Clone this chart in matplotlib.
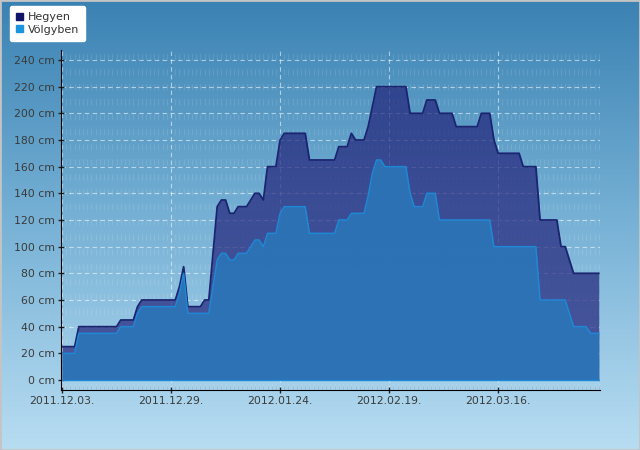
import numpy as np
import pandas as pd
import matplotlib
matplotlib.use("Agg")
import matplotlib.pyplot as plt
import matplotlib.dates as mdates
from matplotlib.colors import LinearSegmentedColormap
from matplotlib.patches import Rectangle

# napi hóvastagság (cm), 2011.12.03-tól
START = "2011-12-03"
hegyen = [25, 25, 25, 25, 40, 40, 40, 40, 40, 40, 40, 40, 40, 40, 45, 45, 45, 45, 55,
          60, 60, 60, 60, 60, 60, 60, 60, 60, 70, 85, 55, 55, 55, 55, 60, 60, 95, 130,
          135, 135, 125, 125, 130, 130, 130, 135, 140, 140, 135, 160, 160, 160, 180,
          185, 185, 185, 185, 185, 185, 165, 165, 165, 165, 165, 165, 165, 175, 175,
          175, 185, 180, 180, 180, 190, 205, 220, 220, 220, 220, 220, 220, 220, 220,
          200, 200, 200, 200, 210, 210, 210, 200, 200, 200, 200, 190, 190, 190, 190,
          190, 190, 200, 200, 200, 180, 170, 170, 170, 170, 170, 170, 160, 160, 160,
          160, 120, 120, 120, 120, 120, 100, 100, 90, 80, 80, 80, 80, 80, 80, 80]
volgyben = [20, 20, 20, 20, 35, 35, 35, 35, 35, 35, 35, 35, 35, 35, 40, 40, 40, 40, 50,
            55, 55, 55, 55, 55, 55, 55, 55, 55, 65, 80, 50, 50, 50, 50, 50, 50, 70, 90,
            95, 95, 90, 90, 95, 95, 95, 100, 105, 105, 100, 110, 110, 110, 125,
            130, 130, 130, 130, 130, 130, 110, 110, 110, 110, 110, 110, 110, 120, 120,
            120, 125, 125, 125, 125, 138, 155, 165, 165, 160, 160, 160, 160, 160, 160,
            140, 130, 130, 130, 140, 140, 140, 120, 120, 120, 120, 120, 120, 120, 120,
            120, 120, 120, 120, 120, 100, 100, 100, 100, 100, 100, 100, 100, 100,
            100, 100, 60, 60, 60, 60, 60, 60, 60, 50, 40, 40, 40, 40, 35, 35, 35]
nevek = ["Hegyen", "Völgyben"]
x_tickek = ["2011-12-03", "2011-12-29", "2012-01-24", "2012-02-19", "2012-03-16"]
y_tickek = [0, 20, 40, 60, 80, 100, 120, 140, 160, 180, 200, 220, 240]

napok = pd.date_range(START, periods=len(hegyen), freq="D")

fig = plt.figure(figsize=(6.4, 4.5), dpi=100)

# háttér színátmenet
bg = fig.add_axes([0, 0, 1, 1], zorder=-10)
cmap = LinearSegmentedColormap.from_list("hatter", ["#3a82b3", "#78b2d6", "#b8ddf2"])
bg.imshow(np.linspace(0, 1, 256).reshape(-1, 1), aspect="auto", cmap=cmap,
          extent=[0, 1, 0, 1], origin="upper")
bg.add_patch(Rectangle((0, 0), 1, 1, transform=bg.transAxes, fill=False,
                       edgecolor="#c4c4c4", lw=2))
bg.axis("off")

ax = fig.add_axes([61 / 640, 1 - 390 / 450, 539 / 640, 340 / 450])
ax.patch.set_alpha(0)
ax.set_axisbelow(True)

ax.fill_between(napok, 0, hegyen, color="#22237a", alpha=0.7, lw=0)
ax.plot(napok, hegyen, color="#1a2470", lw=1.3)
ax.fill_between(napok, 0, volgyben, color="#2c74b6", alpha=0.95, lw=0)
ax.plot(napok, volgyben, color="#1f88d6", lw=1.1)
ax.plot(napok, np.zeros(len(napok)), color="#1f88d6", lw=1)

ax.set_xlim(napok[0] - pd.Timedelta(hours=6), napok[-1] + pd.Timedelta(hours=7))
ax.set_ylim(-7.5, 247.5)

ax.set_yticks(y_tickek)
ax.set_yticklabels([f"{v} cm" for v in y_tickek])
ax.set_xticks(pd.to_datetime(x_tickek))
ax.xaxis.set_major_formatter(mdates.DateFormatter("%Y.%m.%d."))
ax.xaxis.set_minor_locator(mdates.DayLocator())

ax.grid(axis="y", color="white", alpha=0.55, lw=0.8, ls=(0, (4, 3)))
ax.grid(axis="x", which="major", color="white", alpha=0.55, lw=0.8, ls=(0, (4, 3)))
ax.grid(axis="x", which="minor", color="white", alpha=0.11, lw=0.9, ls=(0, (5, 7)))

for s in ["top", "right"]:
    ax.spines[s].set_visible(False)
ax.spines["left"].set_color("black")
ax.spines["bottom"].set_color("black")
ax.tick_params(axis="both", which="major", direction="inout", length=5, width=1,
               color="#222222", labelsize=7.8, labelcolor="#3a3a3a")
ax.tick_params(axis="x", which="minor", direction="in", length=3, color="#9fb8c8")
ax.tick_params(axis="y", pad=2)
ax.tick_params(axis="x", pad=2)

# jelmagyarázat
kezelok = [Rectangle((0, 0), 1, 1, color="#10156a"),
           Rectangle((0, 0), 1, 1, color="#1b95e0")]
leg = fig.legend(kezelok, nevek, loc="upper left", bbox_to_anchor=(10 / 640, 1 - 6 / 450),
                 fontsize=8, frameon=True, fancybox=True, facecolor="white",
                 edgecolor="white", framealpha=1, borderpad=0.55, labelspacing=0.25,
                 handlelength=0.6, handleheight=0.6, handletextpad=0.45, borderaxespad=0)
for t in leg.get_texts():
    t.set_color("#333333")

fig.savefig("out.png", dpi=100)
